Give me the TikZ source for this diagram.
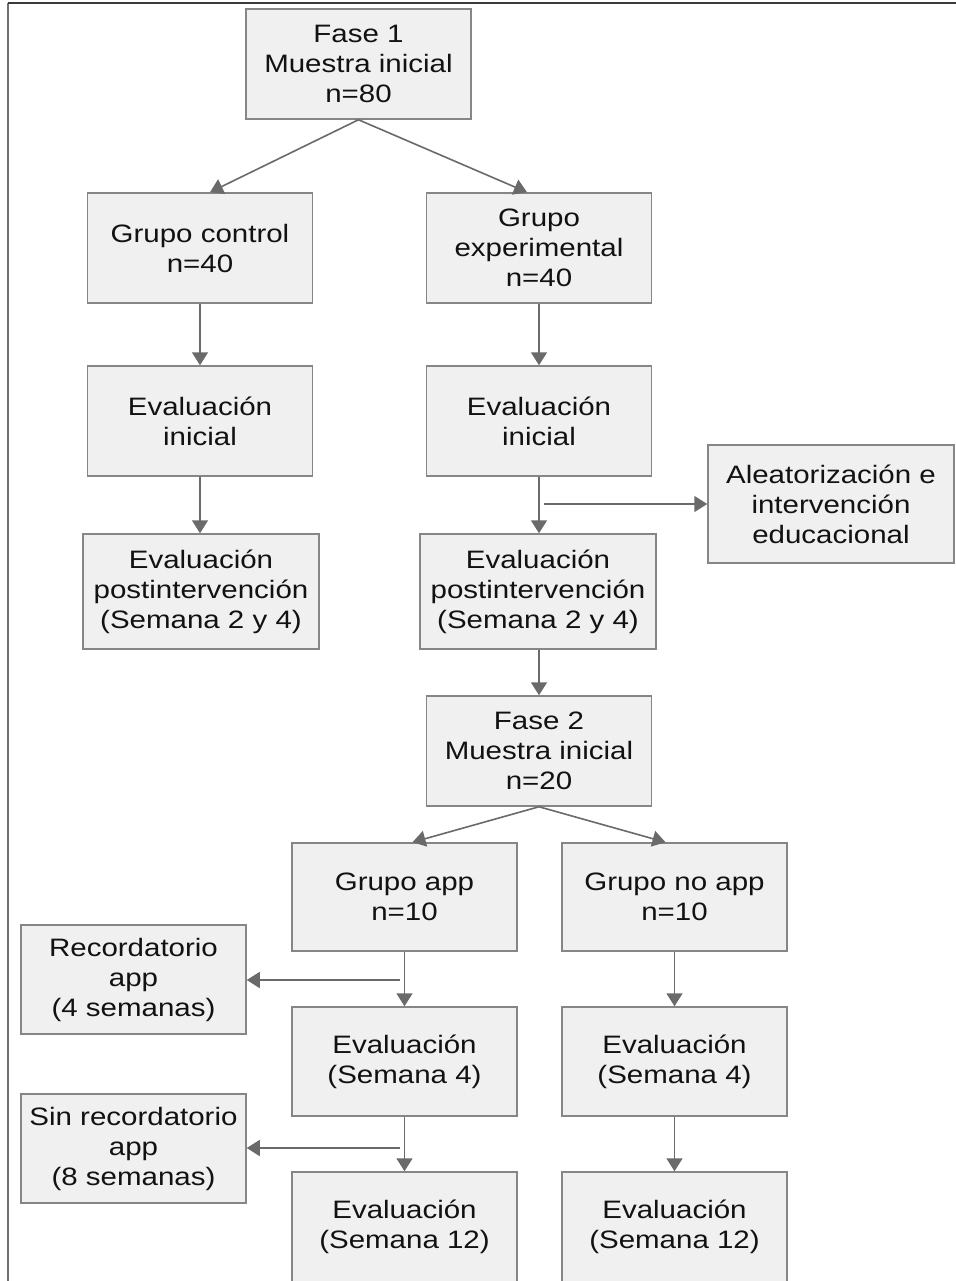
\documentclass[tikz,border=0pt]{standalone}
\usepackage{fontspec}
\setmainfont[FakeStretch=1.17]{Liberation Sans}
\usetikzlibrary{arrows.meta,calc}
\definecolor{boxfill}{HTML}{F0F0F0}
\definecolor{boxline}{HTML}{868686}
\definecolor{arrowc}{HTML}{6A6A6A}
\definecolor{textc}{HTML}{121212}
\definecolor{framec}{HTML}{3A3A3A}
\definecolor{framel}{HTML}{707070}
\begin{document}
\begin{tikzpicture}[x=0.5pt,y=-0.5pt,
  box/.style={draw=boxline, fill=boxfill, line width=0.75pt, align=center,
    inner sep=0pt, text=textc, font=\fontsize{12.6}{15}\selectfont,
    minimum width=112.5pt, minimum height=55pt},
  widebox/.style={box, minimum width=118pt, minimum height=57.5pt},
  arr/.style={draw=arrowc, line width=0.8pt, -{Triangle[length=6.5pt,width=8pt]}}]
\clip (0,0) rectangle (956,1281);
\fill[white] (0,0) rectangle (956,1281);
\draw[framel, line width=1pt] (8,3) -- (8,1290);
\draw[framec, line width=1.1pt] (8,3) -- (960,3);

% Phase 1
\node[box] (f1) at (358.5,64) {Fase 1\\Muestra inicial\\n=80};
\node[box] (gc) at (200,248) {Grupo control\\n=40};
\node[box] (ge) at (539,248) {Grupo\\experimental\\n=40};
\node[box] (eic) at (200,421) {Evaluación\\inicial};
\node[box] (eie) at (539,421) {Evaluación\\inicial};
\node[widebox] (epc) at (201,591.5) {Evaluación\\postintervención\\(Semana 2 y 4)};
\node[widebox] (epe) at (538,591.5) {Evaluación\\postintervención\\(Semana 2 y 4)};
\node[box, minimum width=123pt, minimum height=59pt] (al) at (831,504) {Aleatorización e\\intervención\\educacional};

% Phase 2
\node[box] (f2) at (539,751) {Fase 2\\Muestra inicial\\n=20};
\node[box, minimum height=54pt] (ga) at (404.5,897) {Grupo app\\n=10};
\node[box, minimum height=54pt] (gn) at (674.5,897) {Grupo no app\\n=10};
\node[box, minimum height=54.5pt] (rec) at (133.5,979.5) {Recordatorio\\app\\(4 semanas)};
\node[box, minimum height=54.5pt] (ea4) at (404.5,1061.5) {Evaluación\\(Semana 4)};
\node[box, minimum height=54.5pt] (en4) at (674.5,1061.5) {Evaluación\\(Semana 4)};
\node[box, minimum height=54.5pt] (sin) at (133.5,1148.5) {Sin recordatorio\\app\\(8 semanas)};
\node[box] (ea12) at (404.5,1227) {Evaluación\\(Semana 12)};
\node[box] (en12) at (674.5,1227) {Evaluación\\(Semana 12)};

% connectors phase 1
\draw[arr] (f1.south) -- ($(gc.north)+(10,0)$);
\draw[arr] (f1.south) -- ($(ge.north)+(-12,0)$);
\draw[arr] (gc) -- (eic);
\draw[arr] (ge) -- (eie);
\draw[arr] (eic) -- (epc.north -| eic);
\draw[arr] (eie) -- (epe.north -| eie);
\coordinate (b1) at (544,504);
\draw[arr] (b1) -- (al.west);

% connectors phase 2
\draw[arr] (epe.south -| f2) -- (f2);
\draw[arr] (f2.south) -- ($(ga.north)+(8,0)$);
\draw[arr] (f2.south) -- ($(gn.north)+(-9,0)$);
\draw[arr] (ga) -- (ea4);
\draw[arr] (gn) -- (en4);
\draw[arr] (ea4) -- (ea12);
\draw[arr] (en4) -- (en12);
\coordinate (r1) at (400,980);
\draw[arr] (r1) -- (rec.east |- r1);
\coordinate (r2) at (400,1148);
\draw[arr] (r2) -- (sin.east |- r2);
\end{tikzpicture}
\end{document}
